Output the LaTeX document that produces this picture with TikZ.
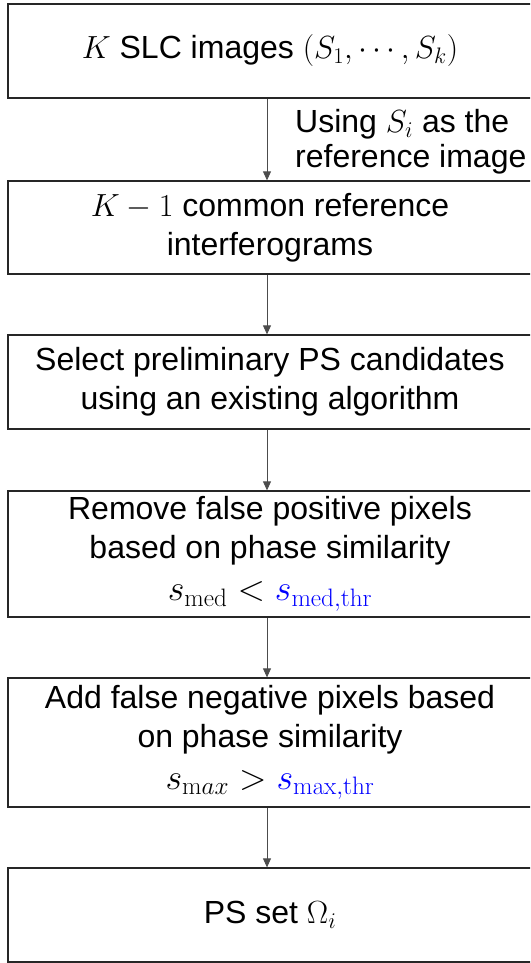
\RequirePackage{fix-cm}
\documentclass[tikz,border=0pt]{standalone}
\usepackage[no-math]{fontspec}
\setmainfont{Liberation Sans}
\usetikzlibrary{arrows.meta}
\definecolor{thrblue}{RGB}{0,0,255}
\newcommand{\condline}[1]{{\fontsize{36}{40}\selectfont $#1$}}
\tikzset{
  x=1pt, y=-1pt,
  stepbox/.style={draw=black!85, line width=1.3pt, minimum width=524pt,
    inner sep=0pt, align=center, font=\fontsize{32}{39}\selectfont},
  flow/.style={draw=black!70, line width=0.8pt, -{Triangle[length=9pt,width=8pt]}},
  note/.style={anchor=north west, inner sep=0pt, align=left,
    font=\fontsize{32}{35}\selectfont}
}
\begin{document}
\begin{tikzpicture}
\useasboundingbox (0,0) rectangle (530,963);
\clip (0,0) rectangle (530,963);
\coordinate (ax) at (267,0);
\node[stepbox, minimum height=94pt] (b1) at (270,51)
  {$K$ SLC images $(S_1,\cdots,S_k)$};
\node[stepbox, minimum height=93pt] (b2) at (270,227.5)
  {$K-1$ common reference\\interferograms};
\node[stepbox, minimum height=94pt] (b3) at (270,382)
  {Select preliminary PS candidates\\using an existing algorithm};
\node[stepbox, minimum height=126pt] (b4) at (270,554)
  {Remove false positive pixels\\based on phase similarity\\[3pt]
   \condline{s_{\mathrm{med}} < \textcolor{thrblue}{s_{\mathrm{med,thr}}}}};
\node[stepbox, minimum height=129pt] (b5) at (270,742.5)
  {Add false negative pixels based\\on phase similarity\\[3pt]
   \condline{s_{\mathrm{m}ax} > \textcolor{thrblue}{s_{\mathrm{max,thr}}}}};
\node[stepbox, minimum height=94pt] (b6) at (270,915)
  {PS set $\Omega_i$};
\node[note] (lbl) at (295,109) {Using $S_i$ as the\\reference image};
\draw[flow] (b1.south -| ax) -- (b2.north -| ax);
\draw[flow] (b2.south -| ax) -- (b3.north -| ax);
\draw[flow] (b3.south -| ax) -- (b4.north -| ax);
\draw[flow] (b4.south -| ax) -- (b5.north -| ax);
\draw[flow] (b5.south -| ax) -- (b6.north -| ax);
\end{tikzpicture}
\end{document}
